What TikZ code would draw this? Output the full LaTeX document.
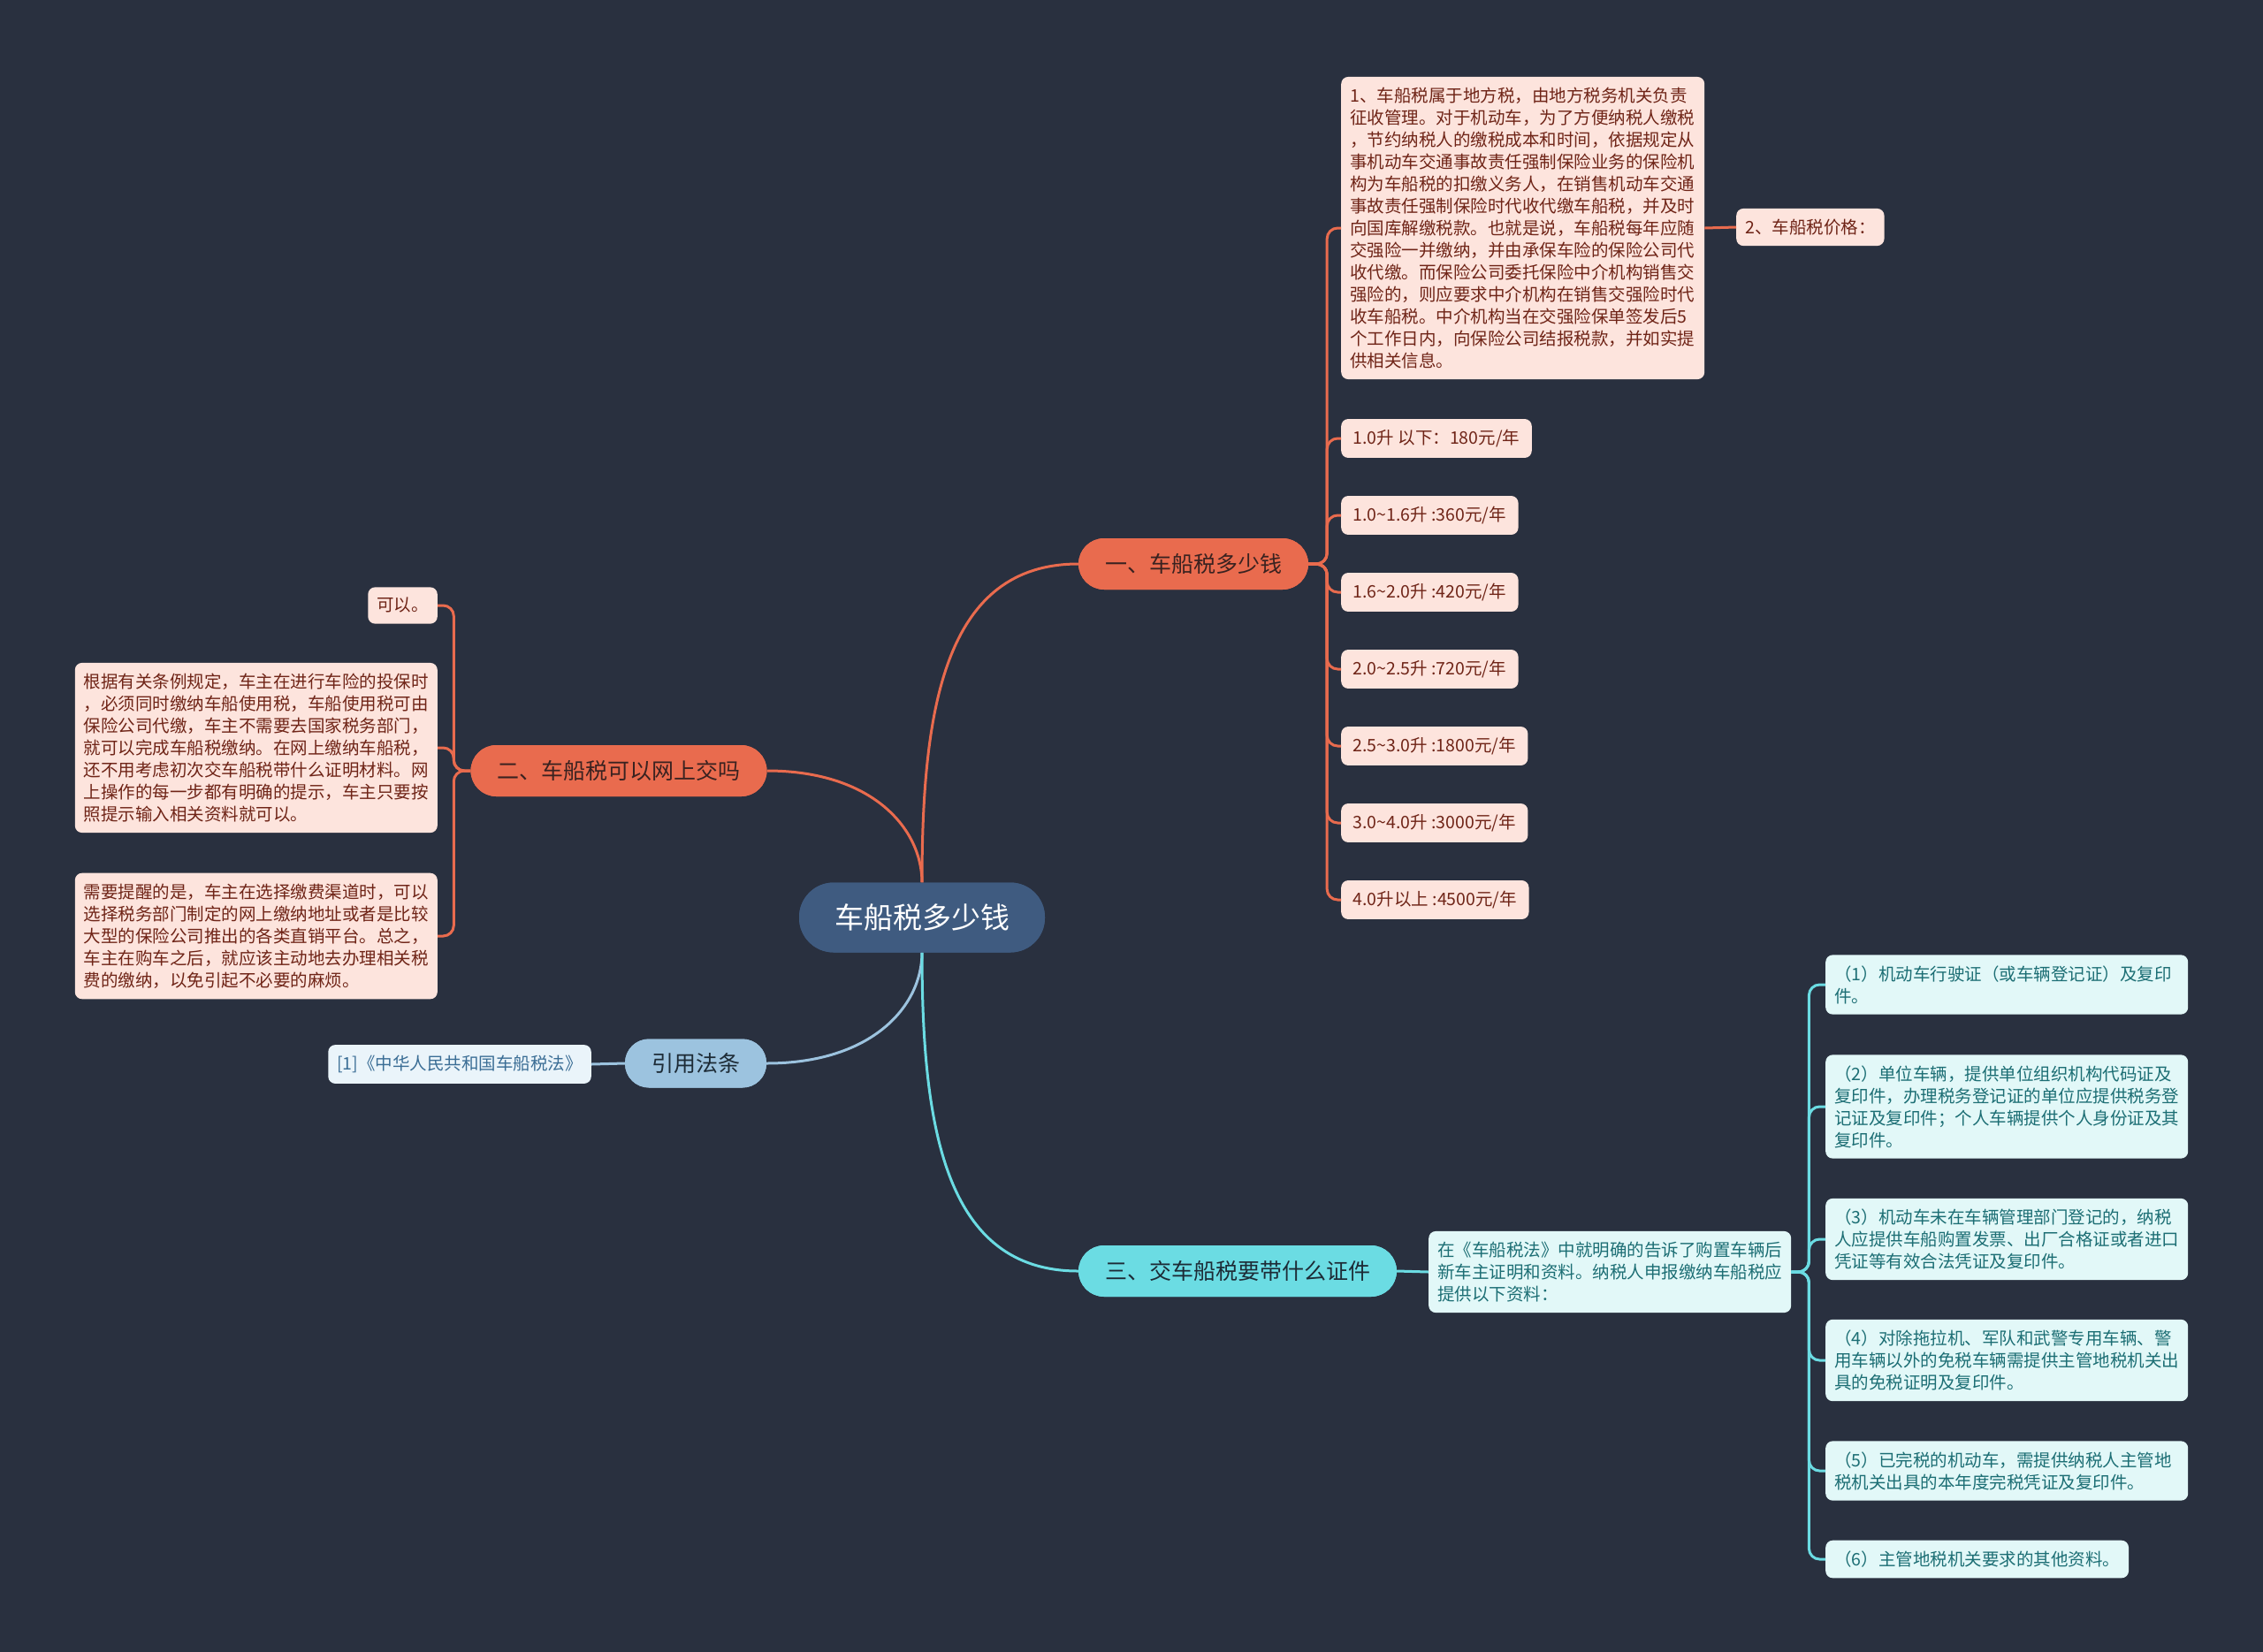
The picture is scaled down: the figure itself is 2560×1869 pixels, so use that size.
\documentclass[tikz,border=0pt]{standalone}
\usepackage{fontspec}
\setmainfont{Noto Sans CJK SC}
\usetikzlibrary{calc}
\definecolor{bg}{HTML}{29303F}
\definecolor{rootc}{HTML}{3F5B80}
\definecolor{orangec}{HTML}{E96B4E}
\definecolor{orangetext}{HTML}{3A2220}
\definecolor{pinkfill}{HTML}{FDE4DD}
\definecolor{redtext}{HTML}{6F2417}
\definecolor{cyanc}{HTML}{6BDCE3}
\definecolor{cyantext}{HTML}{1D2B36}
\definecolor{cyanfill}{HTML}{E2F8F8}
\definecolor{tealtext}{HTML}{1C6E74}
\definecolor{bluec}{HTML}{9CC3DF}
\definecolor{bluefill}{HTML}{EAF4FA}
\definecolor{bluetext}{HTML}{3A6D95}
\begin{document}
\begin{tikzpicture}[x=1pt,y=-1pt,
  leafbase/.style={rounded corners=8pt, inner xsep=10pt, inner ysep=12pt, font=\fontsize{19.5}{25}\selectfont, align=left},
  redleaf/.style={leafbase, fill=pinkfill, text=redtext},
  priceleaf/.style={redleaf, inner xsep=13.5pt},
  cyanleaf/.style={leafbase, fill=cyanfill, text=tealtext},
  blueleaf/.style={leafbase, fill=bluefill, text=bluetext},
  rootnode/.style={fill=rootc, text=white, rounded corners=39pt, minimum height=79pt, inner xsep=40pt, inner ysep=0pt, font=\fontsize{33}{40}\selectfont},
  branchbase/.style={rounded corners=29pt, minimum height=58pt, inner xsep=30pt, inner ysep=0pt, font=\fontsize{25}{30}\selectfont},
  orangebranch/.style={branchbase, fill=orangec, text=orangetext},
  cyanbranch/.style={branchbase, fill=cyanc, text=cyantext},
  bluebranch/.style={branchbase, fill=bluec, text=cyantext, rounded corners=27pt, minimum height=55pt},
  lineorange/.style={draw=orangec, line width=3pt},
  linecyan/.style={draw=cyanc, line width=3pt},
  lineblue/.style={draw=bluec, line width=3pt},
  leafline/.style={rounded corners=12pt}
]
\fill[bg] (0,0) rectangle (2560,1869);
\useasboundingbox (0,0) rectangle (2560,1869);

% ---------- nodes ----------
\node[rootnode] (root) at (1043,1038) {车船税多少钱};
\node[orangebranch] (b1) at (1350,638) {一、车船税多少钱};
\node[orangebranch] (b2) at (700,872) {二、车船税可以网上交吗};
\node[cyanbranch] (b3) at (1400,1438) {三、交车船税要带什么证件};
\node[bluebranch] (q) at (787,1203) {引用法条};

% branch 1 leaves
\node[redleaf, anchor=west, text width=391pt] (t1) at (1517,258) {1、车船税属于地方税，由地方税务机关负责\\征收管理。对于机动车，为了方便纳税人缴税\\，节约纳税人的缴税成本和时间，依据规定从\\事机动车交通事故责任强制保险业务的保险机\\构为车船税的扣缴义务人，在销售机动车交通\\事故责任强制保险时代收代缴车船税，并及时\\向国库解缴税款。也就是说，车船税每年应随\\交强险一并缴纳，并由承保车险的保险公司代\\收代缴。而保险公司委托保险中介机构销售交\\强险的，则应要求中介机构在销售交强险时代\\收车船税。中介机构当在交强险保单签发后5\\个工作日内，向保险公司结报税款，并如实提\\供相关信息。};
\node[redleaf, anchor=west] (t2) at (1964,257) {2、车船税价格：};
\node[priceleaf, anchor=west] (p1) at (1517,496) {1.0升 以下：180元/年};
\node[priceleaf, anchor=west] (p2) at (1517,583) {1.0\textasciitilde 1.6升 :360元/年};
\node[priceleaf, anchor=west] (p3) at (1517,670) {1.6\textasciitilde 2.0升 :420元/年};
\node[priceleaf, anchor=west] (p4) at (1517,757) {2.0\textasciitilde 2.5升 :720元/年};
\node[priceleaf, anchor=west] (p5) at (1517,844) {2.5\textasciitilde 3.0升 :1800元/年};
\node[priceleaf, anchor=west] (p6) at (1517,931) {3.0\textasciitilde 4.0升 :3000元/年};
\node[priceleaf, anchor=west] (p7) at (1517,1018) {4.0升以上 :4500元/年};

% branch 2 leaves
\node[redleaf, anchor=east] (k1) at (495,685) {可以。};
\node[redleaf, anchor=east, text width=390pt] (k2) at (495,846) {根据有关条例规定，车主在进行车险的投保时\\，必须同时缴纳车船使用税，车船使用税可由\\保险公司代缴，车主不需要去国家税务部门，\\就可以完成车船税缴纳。在网上缴纳车船税，\\还不用考虑初次交车船税带什么证明材料。网\\上操作的每一步都有明确的提示，车主只要按\\照提示输入相关资料就可以。};
\node[redleaf, anchor=east, text width=390pt] (k3) at (495,1059) {需要提醒的是，车主在选择缴费渠道时，可以\\选择税务部门制定的网上缴纳地址或者是比较\\大型的保险公司推出的各类直销平台。总之，\\车主在购车之后，就应该主动地去办理相关税\\费的缴纳，以免引起不必要的麻烦。};

% branch 3 leaves
\node[cyanleaf, anchor=west, text width=390pt] (m) at (1616,1439) {在《车船税法》中就明确的告诉了购置车辆后\\新车主证明和资料。纳税人申报缴纳车船税应\\提供以下资料：};
\node[cyanleaf, anchor=west, text width=390pt] (c1) at (2065,1114) {（1）机动车行驶证（或车辆登记证）及复印\\件。};
\node[cyanleaf, anchor=west, text width=390pt] (c2) at (2065,1252) {（2）单位车辆，提供单位组织机构代码证及\\复印件，办理税务登记证的单位应提供税务登\\记证及复印件；个人车辆提供个人身份证及其\\复印件。};
\node[cyanleaf, anchor=west, text width=390pt] (c3) at (2065,1402) {（3）机动车未在车辆管理部门登记的，纳税\\人应提供车船购置发票、出厂合格证或者进口\\凭证等有效合法凭证及复印件。};
\node[cyanleaf, anchor=west, text width=390pt] (c4) at (2065,1539) {（4）对除拖拉机、军队和武警专用车辆、警\\用车辆以外的免税车辆需提供主管地税机关出\\具的免税证明及复印件。};
\node[cyanleaf, anchor=west, text width=390pt] (c5) at (2065,1664) {（5）已完税的机动车，需提供纳税人主管地\\税机关出具的本年度完税凭证及复印件。};
\node[cyanleaf, anchor=west] (c6) at (2065,1764) {（6）主管地税机关要求的其他资料。};

% quote leaf
\node[blueleaf, anchor=east] (r1) at (669,1204) {[1]《中华人民共和国车船税法》};

% ---------- connectors ----------
\draw[lineorange] (root.north) .. controls ($(root.north)+(0,-200)$) and ($(b1.west)+(-150,0)$) .. (b1.west);
\draw[lineorange] (root.north) .. controls ($(root.north)+(0,-60)$) and ($(b2.east)+(120,0)$) .. (b2.east);
\draw[lineblue] (root.south) .. controls ($(root.south)+(0,60)$) and ($(q.east)+(120,0)$) .. (q.east);
\draw[linecyan] (root.south) .. controls ($(root.south)+(0,200)$) and ($(b3.west)+(-150,0)$) .. (b3.west);

\foreach \n in {t1,p1,p2,p3,p4,p5,p6,p7}{
  \draw[lineorange, leafline] (b1.east) -- ++(21,0) |- (\n.west);
}
\draw[lineorange] (t1.east) -- (t2.west);
\foreach \n in {k1,k2,k3}{
  \draw[lineorange, leafline] (b2.west) -- ++(-19,0) |- (\n.east);
}
\draw[linecyan] (b3.east) -- (m.west);
\foreach \n in {c1,c2,c3,c4,c5,c6}{
  \draw[linecyan, leafline] (m.east) -- ++(20,0) |- (\n.west);
}
\draw[lineblue] (q.west) -- (r1.east);

% redraw main nodes on top of connectors
\node[rootnode] at (root) {车船税多少钱};
\node[orangebranch] at (b1) {一、车船税多少钱};
\node[orangebranch] at (b2) {二、车船税可以网上交吗};
\node[cyanbranch] at (b3) {三、交车船税要带什么证件};
\node[bluebranch] at (q) {引用法条};
\end{tikzpicture}
\end{document}
